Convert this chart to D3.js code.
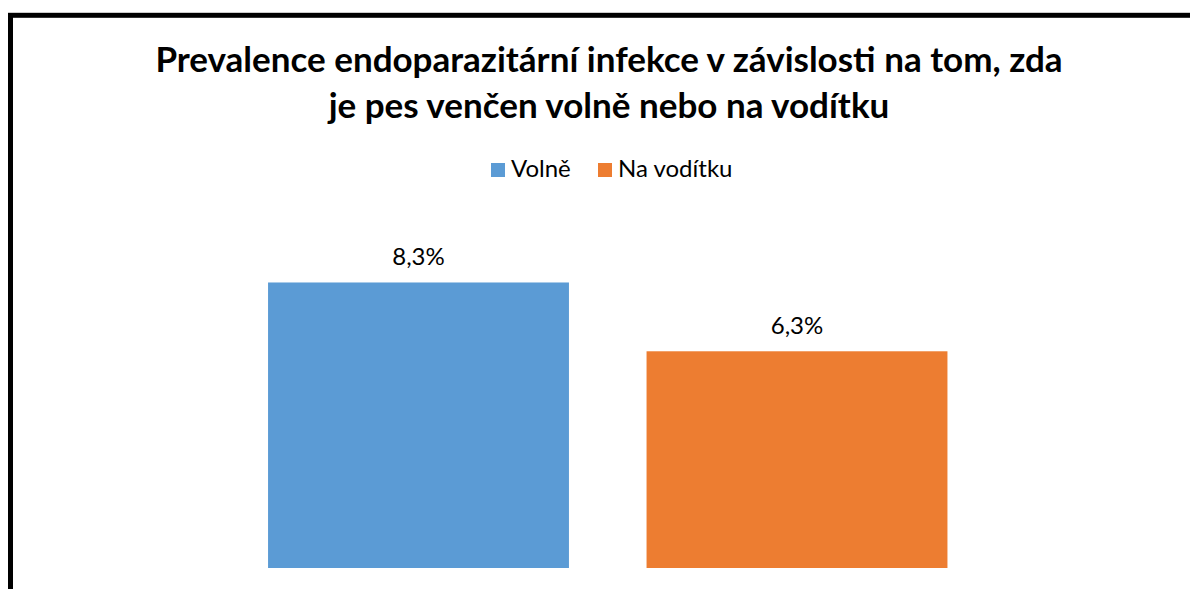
<!DOCTYPE html>
<html>
<head>
<meta charset="utf-8">
<script src="https://cdn.jsdelivr.net/npm/d3@7"></script>
<style>
  body { margin:0; background:#fff; }
  svg text { font-family: Lato, "Open Sans", sans-serif; fill:#000; }
</style>
</head>
<body>
<svg width="1190" height="589"></svg>
<script>
const svg = d3.select('svg');
const width = +svg.attr('width');
const height = +svg.attr('height');

// data
const categories = ['Volně', 'Na vodítku'];
const values = [8.3, 6.3];
const labels = ['8,3%', '6,3%'];
const colors = ['#5B9BD5', '#ED7D31'];
const titleLines = ['Prevalence endoparazitární infekce v závislosti na tom, zda',
                    'je pes venčen volně nebo na vodítku'];

// chart frame (bottom and right run off the picture)
svg.append('rect')
   .attr('x', 10.5).attr('y', 15.3)
   .attr('width', 1200).attr('height', 620)
   .attr('fill', '#fff')
   .attr('stroke', '#000')
   .attr('stroke-width', 5);

// title
svg.selectAll('.title')
   .data(titleLines)
   .enter()
   .append('text')
     .attr('class', 'title')
     .attr('x', 609)
     .attr('y', (d, i) => 72 + i * 46)
     .attr('text-anchor', 'middle')
     .style('font-size', '35px')
     .style('font-weight', 'bold')
     .text(d => d);

/* scales */
const xScale = d3.scaleBand()
   .domain(categories)
   .range([229.25, 986.25])
   .paddingInner(0.205)
   .paddingOuter(0.1025);

const yScale = d3.scaleLinear()
   .domain([0, 10])
   .range([568, 224]);

const data = categories.map((c, i) => ({ cat: c, v: values[i], lab: labels[i], col: colors[i] }));

svg.selectAll('.bar')
   .data(data)
   .enter()
   .append('rect')
     .attr('class', 'bar')
     .attr('x', d => xScale(d.cat))
     .attr('y', d => yScale(d.v))
     .attr('width', xScale.bandwidth())
     .attr('height', d => yScale(0) - yScale(d.v))
     .attr('fill', d => d.col);

svg.selectAll('.lab')
   .data(data)
   .enter()
   .append('text')
     .attr('class', 'lab')
     .attr('x', d => xScale(d.cat) + xScale.bandwidth() / 2)
     .attr('y', d => yScale(d.v) - 17)
     .attr('text-anchor', 'middle')
     .style('font-size', '24px')
     .text(d => d.lab);

// legend
const legend = svg.append('g').attr('transform', 'translate(491,163)');
const legX = [0, 107];
const items = legend.selectAll('g')
   .data(data)
   .enter()
   .append('g')
     .attr('transform', (d, i) => `translate(${legX[i]},0)`);
items.append('rect')
   .attr('width', 14).attr('height', 14)
   .attr('fill', d => d.col);
items.append('text')
   .attr('x', 20).attr('y', 14)
   .style('font-size', '24px')
   .text(d => d.cat);
</script>
</body>
</html>
